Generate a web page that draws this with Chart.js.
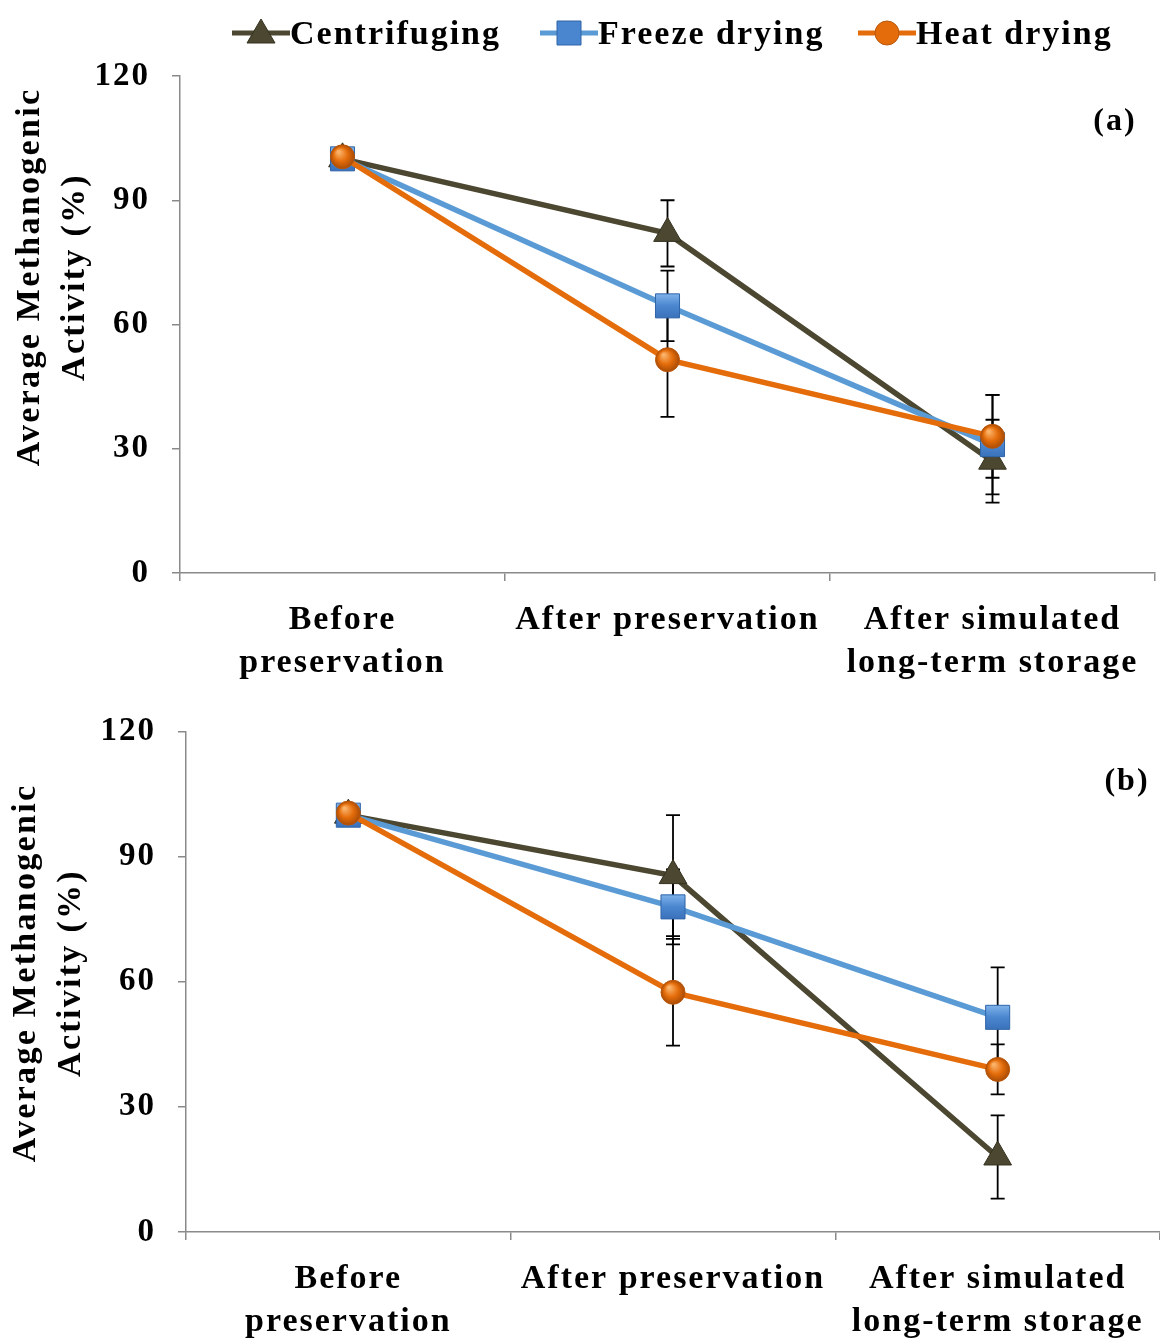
<!DOCTYPE html>
<html>
<head>
<meta charset="utf-8">
<script src="https://cdn.jsdelivr.net/npm/chart.js@4.4.0/dist/chart.umd.min.js"></script>
<style>
  body { margin: 0; background: #fff; width: 1160px; height: 1344px; position: relative; overflow: hidden; font-family: "Liberation Serif", serif; }
  .panel { position: absolute; left: 0; width: 1160px; }
  #panelA { top: 0; height: 690px; }
  #panelB { top: 690px; height: 654px; }
  .legend-item { position: absolute; top: 14px; display: flex; align-items: center; font-weight: bold; font-size: 34px; letter-spacing: 2px; line-height: 38px; color: #000; }
  .legend-item canvas { display: block; }
</style>
</head>
<body>
<div id="panelA" class="panel"><canvas id="chartA"></canvas></div>
<div id="panelB" class="panel"><canvas id="chartB"></canvas></div>
<div id="legend"></div>
<script>
// categories and axis
const categories = [['Before', 'preservation'], 'After preservation', ['After simulated', 'long-term storage']];
const yTicks = [0, 30, 60, 90, 120];
const seriesNames = ['Centrifuging', 'Freeze drying', 'Heat drying'];

// (a) means and error bars
const centrifugingA = [100, 82, 27];
const centrifugingErrA = [0, 8, 10];
const freezeA = [100, 64.5, 31];
const freezeErrA = [0, 8.5, 12];
const heatA = [100.5, 51.5, 33];
const heatErrA = [0, 13.8, 10];

// (b) means and error bars
const centrifugingB = [100, 85.5, 18];
const centrifugingErrB = [0, 14.5, 10];
const freezeB = [100, 78, 51.5];
const freezeErrB = [0, 9, 12];
const heatB = [100.5, 57.5, 39];
const heatErrB = [0, 12.8, 6];

const FONT = '"Liberation Serif", "Times New Roman", serif';
const AXIS_GREY = '#8a8a8a';
const SPACING = '2px';

const styles = [
  { line: '#4b4731', fill: '#4b4731', edge: '#34311f', shape: 'triangle', r: 16, order: 3 },
  { line: '#5b9bd5', fill: '#4a86cf', edge: '#2f64a8', shape: 'rect', r: 17, order: 2 },
  { line: '#e46c0a', fill: '#e46c0a', edge: '#b9560a', shape: 'circle', r: 12, order: 1 }
];

// shaded marker fill, built at each point's pixel position
function markerFill(st) {
  return function (c) {
    const chart = c.chart;
    if (c.type !== 'data' || !c.parsed || !chart.scales.x || !chart.scales.y) return st.fill;
    const x = chart.scales.x.getPixelForValue(c.dataIndex);
    const y = chart.scales.y.getPixelForValue(c.parsed.y);
    if (!isFinite(x) || !isFinite(y)) return st.fill;
    const g = chart.ctx;
    if (st.shape === 'circle') {
      const grad = g.createRadialGradient(x - 4, y - 5, 1, x, y, st.r);
      grad.addColorStop(0, '#fbb36a');
      grad.addColorStop(0.55, '#e46c0a');
      grad.addColorStop(1, '#a94c06');
      return grad;
    }
    if (st.shape === 'rect') {
      const grad = g.createLinearGradient(x, y - 12, x, y + 12);
      grad.addColorStop(0, '#7fb2ea');
      grad.addColorStop(0.5, '#4a86cf');
      grad.addColorStop(1, '#3a72bb');
      return grad;
    }
    return st.fill;
  };
}

function makeDatasets(values, errors) {
  return values.map((v, i) => ({
    label: seriesNames[i],
    data: v,
    errors: errors[i],
    order: styles[i].order,
    borderColor: styles[i].line,
    borderWidth: 5.5,
    tension: 0,
    fill: false,
    pointStyle: styles[i].shape,
    pointRadius: styles[i].r,
    pointBackgroundColor: markerFill(styles[i]),
    pointBorderColor: styles[i].edge,
    pointBorderWidth: 1
  }));
}

// wider letter spacing for all canvas text (kept across canvas resets)
const textSpacing = {
  id: 'textSpacing',
  beforeUpdate(chart) { chart.ctx.letterSpacing = SPACING; },
  beforeDraw(chart) { chart.ctx.letterSpacing = SPACING; }
};

// vertical error bars with caps, drawn under the markers
const errorBars = {
  id: 'errorBars',
  beforeDatasetsDraw(chart) {
    const g = chart.ctx;
    const xs = chart.scales.x, ys = chart.scales.y;
    g.save();
    g.strokeStyle = '#000';
    g.lineWidth = 1.8;
    chart.data.datasets.forEach(ds => {
      ds.data.forEach((v, i) => {
        const e = ds.errors[i];
        if (!e) return;
        const x = xs.getPixelForValue(i);
        const y1 = ys.getPixelForValue(v + e);
        const y2 = ys.getPixelForValue(v - e);
        g.beginPath();
        g.moveTo(x, y1); g.lineTo(x, y2);
        g.moveTo(x - 7, y1); g.lineTo(x + 7, y1);
        g.moveTo(x - 7, y2); g.lineTo(x + 7, y2);
        g.stroke();
      });
    });
    g.restore();
  }
};

// rotated two-line axis title and the panel letter
const annotations = {
  id: 'annotations',
  afterDraw(chart, args, opts) {
    const g = chart.ctx;
    const area = chart.chartArea;
    g.save();
    g.fillStyle = '#000';
    g.font = 'bold 34px ' + FONT;
    g.letterSpacing = '2.3px';
    g.textAlign = 'center';
    g.textBaseline = 'middle';
    g.translate(opts.titleX, opts.titleY);
    g.rotate(-Math.PI / 2);
    opts.title.forEach((t, i) => g.fillText(t, 0, i * 45));
    g.restore();

    g.save();
    g.fillStyle = '#000';
    g.font = 'bold 32px ' + FONT;
    g.textAlign = 'center';
    g.textBaseline = 'middle';
    g.fillText(opts.panel, area.right + opts.panelDX, area.top + opts.panelDY);
    g.restore();
  }
};

function makeChart(id, values, errors, cfg) {
  return new Chart(document.getElementById(id), {
    type: 'line',
    data: { labels: categories, datasets: makeDatasets(values, errors) },
    plugins: [textSpacing, errorBars, annotations],
    options: {
      responsive: true,
      maintainAspectRatio: false,
      animation: false,
      events: [],
      layout: { autoPadding: false, padding: { top: cfg.top, right: cfg.right, left: 0, bottom: 0 } },
      plugins: {
        legend: { display: false },
        tooltip: { enabled: false },
        annotations: { title: ['Average Methanogenic', 'Activity (%)'], titleX: cfg.titleX, titleY: cfg.titleY, panel: cfg.panel, panelDX: cfg.panelDX, panelDY: cfg.panelDY }
      },
      scales: {
        x: {
          type: 'category',
          offset: true,
          afterFit(s) { s.height = cfg.xHeight; s.paddingLeft = 0; s.paddingRight = 0; },
          grid: { display: true, offset: true, drawOnChartArea: false, drawTicks: true, tickLength: 8, color: AXIS_GREY, lineWidth: 1.5 },
          border: { display: true, color: AXIS_GREY, width: 1.5 },
          ticks: { color: '#000', padding: 17, maxRotation: 0, autoSkip: false, font: { family: FONT, size: 34, weight: 'bold', lineHeight: 1.28 } }
        },
        y: {
          min: 0,
          max: 120,
          afterFit(s) { s.width = cfg.yWidth; },
          afterBuildTicks(s) { s.ticks = yTicks.map(v => ({ value: v })); },
          grid: { display: true, drawOnChartArea: false, drawTicks: true, tickLength: 8, color: AXIS_GREY, lineWidth: 1.5 },
          border: { display: true, color: AXIS_GREY, width: 1.5 },
          ticks: { color: '#000', padding: 22, font: { family: FONT, size: 33, weight: 'bold' } }
        }
      }
    }
  });
}

makeChart('chartA',
  [centrifugingA, freezeA, heatA],
  [centrifugingErrA, freezeErrA, heatErrA],
  { top: 76, right: 5, xHeight: 117, yWidth: 180, titleX: 30, titleY: 277, panel: '(a)', panelDX: -40, panelDY: 46 });

makeChart('chartB',
  [centrifugingB, freezeB, heatB],
  [centrifugingErrB, freezeErrB, heatErrB],
  { top: 37, right: 0, xHeight: 112, yWidth: 186, titleX: 26, titleY: 283, panel: '(b)', panelDX: -33, panelDY: 50 });

// legend row: short line with the series marker, then the name
const legendLefts = [232, 540, 858];
const legend = document.getElementById('legend');
seriesNames.forEach((name, i) => {
  const st = styles[i];
  const item = document.createElement('div');
  item.className = 'legend-item';
  item.style.left = legendLefts[i] + 'px';
  const cv = document.createElement('canvas');
  cv.width = 58; cv.height = 38;
  const g = cv.getContext('2d');
  g.strokeStyle = st.line;
  g.lineWidth = 5;
  g.beginPath(); g.moveTo(0, 19); g.lineTo(58, 19); g.stroke();
  g.fillStyle = st.fill;
  g.strokeStyle = st.edge;
  g.lineWidth = 1;
  g.beginPath();
  if (st.shape === 'triangle') {
    g.moveTo(29, 5); g.lineTo(43, 29); g.lineTo(15, 29); g.closePath();
  } else if (st.shape === 'rect') {
    g.rect(17, 7, 24, 24);
  } else {
    g.arc(29, 19, 12, 0, Math.PI * 2);
  }
  g.fill(); g.stroke();
  const label = document.createElement('span');
  label.textContent = name;
  item.appendChild(cv);
  item.appendChild(label);
  legend.appendChild(item);
});
</script>
</body>
</html>
